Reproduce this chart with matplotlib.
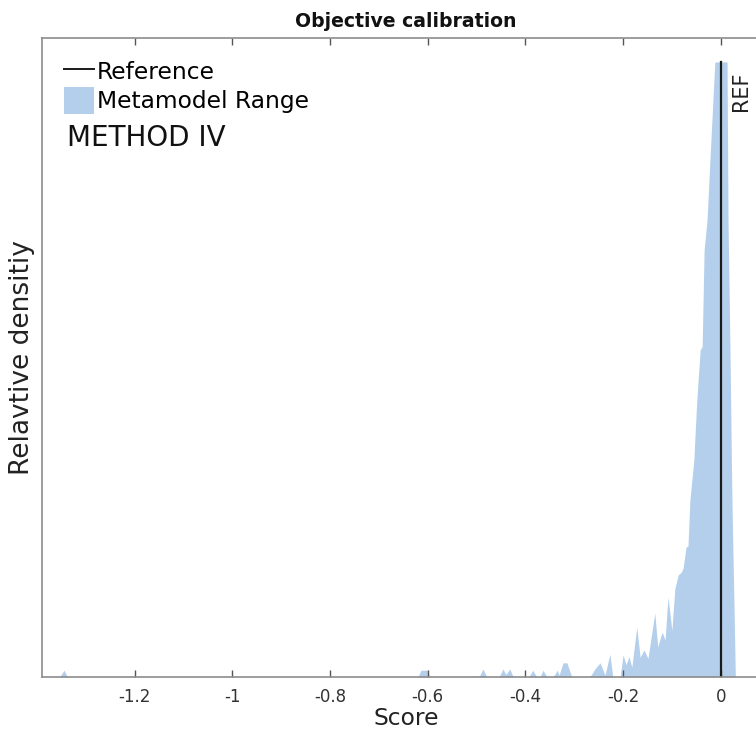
import numpy as np
import matplotlib.pyplot as plt
from matplotlib.patches import Patch
from matplotlib.lines import Line2D

# relative density of the metamodel scores (peak normalised to 1)
score = [-1.354, -1.345, -1.338,
         -0.620, -0.614, -0.600, -0.596,
         -0.495, -0.487, -0.479,
         -0.454, -0.446, -0.440, -0.432, -0.425,
         -0.393, -0.385, -0.377, -0.370, -0.364, -0.356,
         -0.343, -0.335, -0.331, -0.323, -0.315, -0.305,
         -0.268, -0.256, -0.247, -0.237, -0.227, -0.221,
         -0.206, -0.200, -0.194, -0.188, -0.182, -0.172, -0.165,
         -0.157, -0.149, -0.135, -0.129, -0.120, -0.114, -0.108,
         -0.100, -0.094, -0.087, -0.081, -0.077, -0.071, -0.067,
         -0.063, -0.055, -0.049, -0.042, -0.038, -0.034, -0.028,
         -0.026, -0.020, -0.012, 0.000, 0.013, 0.015, 0.019,
         0.023, 0.027, 0.030]
density = [0.0, 0.011, 0.0,
           0.0, 0.011, 0.011, 0.0,
           0.0, 0.013, 0.0,
           0.0, 0.013, 0.004, 0.013, 0.0,
           0.0, 0.011, 0.0, 0.0, 0.011, 0.0,
           0.0, 0.011, 0.003, 0.023, 0.023, 0.0,
           0.0, 0.015, 0.023, 0.003, 0.037, 0.0,
           0.0, 0.036, 0.020, 0.033, 0.016, 0.081, 0.032,
           0.044, 0.030, 0.104, 0.049, 0.073, 0.060, 0.130,
           0.076, 0.143, 0.166, 0.170, 0.177, 0.211, 0.213,
           0.288, 0.353, 0.450, 0.532, 0.537, 0.694, 0.743,
           0.776, 0.873, 1.0, 1.0, 1.0, 0.743, 0.532,
           0.288, 0.125, 0.0]

ref_score = 0.0
xticks = [-1.2, -1, -0.8, -0.6, -0.4, -0.2, 0]
xticklabels = ['-1.2', '-1', '-0.8', '-0.6', '-0.4', '-0.2', '0']

fill_color = '#b4cfec'
axis_color = '#8c8c8c'

fig = plt.figure(figsize=(7.56, 7.38), dpi=100)
ax = fig.add_axes([0.0556, 0.0827, 0.9623, 0.8659])

ax.fill_between(score, density, 0, color=fill_color, lw=0)
ax.plot([ref_score, ref_score], [0, max(density)], color='#1a1a1a', lw=1.6)
ax.text(ref_score + 0.022, 0.985, 'REF', rotation=90, ha='left', va='top',
        fontsize=15, color='#222222')

ax.set_xlim(-1.39, 0.1)
ax.set_ylim(0, 1.039)
ax.set_xticks(xticks)
ax.set_xticklabels(xticklabels, fontsize=12, color='#333333')
ax.set_yticks([])
ax.tick_params(axis='x', direction='in', length=5, width=1, color='#555555',
               top=True, pad=8)
for side in ['left', 'top', 'right', 'bottom']:
    ax.spines[side].set_color(axis_color)
    ax.spines[side].set_linewidth(1.2)

ax.set_xlabel('Score', fontsize=16.8, color='#222222', labelpad=1)
ax.set_ylabel('Relavtive densitiy', fontsize=19, color='#222222', labelpad=5)
ax.set_title('Objective calibration', fontsize=13.6, fontweight='bold',
             color='#111111', pad=8)

handles = [Line2D([], [], color='#1a1a1a', lw=1.4),
           Patch(facecolor=fill_color, edgecolor='none')]
ax.legend(handles, ['Reference', 'Metamodel Range'], loc='upper left',
          bbox_to_anchor=(0.004, 0.998), frameon=False, fontsize=16.8,
          handlelength=1.3, handleheight=1.45, handletextpad=0.12,
          labelspacing=0.05, borderaxespad=0.6, borderpad=0.2)
ax.text(0.034, 0.843, 'METHOD IV', transform=ax.transAxes, fontsize=20,
        color='#111111', ha='left', va='center')

fig.savefig('out.png', dpi=100)
